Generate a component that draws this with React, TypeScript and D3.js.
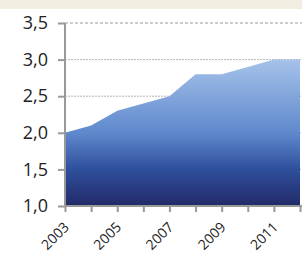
import React, { useEffect, useRef } from "react";
import * as d3 from "d3";

const years = [2003, 2004, 2005, 2006, 2007, 2008, 2009, 2010, 2011, 2012];
const values = [2.0, 2.1, 2.3, 2.4, 2.5, 2.8, 2.8, 2.9, 3.0, 3.0];
const yTicks = [1.0, 1.5, 2.0, 2.5, 3.0, 3.5];
const xLabelYears = [2003, 2005, 2007, 2009, 2011];

function App() {
  const ref = useRef<SVGSVGElement>(null);

  useEffect(() => {
    const width = 302;
    const height = 256;
    const margin = { top: 23, left: 65, bottom: 50, right: 2 };

    const svg = d3.select(ref.current);
    svg.selectAll("*").remove();

    // beige strip on top
    svg.append("rect").attr("x", 0).attr("y", 0).attr("width", width).attr("height", 9).attr("fill", "#f2efe2");

    const x = d3.scaleLinear()
      .domain([2003, 2012])
      .range([margin.left, width - margin.right]);

    const y = d3.scaleLinear()
      .domain([1, 3.5])
      .range([height - margin.bottom, margin.top]);

    const defs = svg.append("defs");
    const grad = defs.append("linearGradient")
      .attr("id", "areaGrad")
      .attr("gradientUnits", "userSpaceOnUse")
      .attr("x1", 0).attr("x2", 0)
      .attr("y1", y(3.0)).attr("y2", y(1.0));
    grad.append("stop").attr("offset", "0%").attr("stop-color", "#a6c2ea");
    grad.append("stop").attr("offset", "50%").attr("stop-color", "#5f89cd");
    grad.append("stop").attr("offset", "75%").attr("stop-color", "#2f4f9c");
    grad.append("stop").attr("offset", "100%").attr("stop-color", "#222a68");

    // gridlines
    svg.append("g")
      .selectAll("line")
      .data(yTicks.filter(t => t > 1))
      .enter()
      .append("line")
      .attr("x1", margin.left)
      .attr("x2", width)
      .attr("y1", d => y(d))
      .attr("y2", d => y(d))
      .attr("stroke", d => d === 3.5 ? "#9a9a9a" : "#b5b5b5")
      .attr("stroke-width", 1)
      .attr("stroke-dasharray", d => d === 3.5 ? "3,2" : "2,1");

    const area = d3.area<number>()
      .x((d, i) => x(years[i]))
      .y0(y(1))
      .y1(d => y(d));

    svg.append("path")
      .datum(values)
      .attr("d", area)
      .attr("fill", "url(#areaGrad)");

    // y axis
    const yAxis = svg.append("g")
      .attr("transform", `translate(${margin.left}, 0)`)
      .call(d3.axisLeft(y).tickValues(yTicks).tickSize(7).tickFormat(d => d3.format(".1f")(d as number).replace(".", ",")));
    yAxis.selectAll("path, line").attr("stroke", "#999").attr("stroke-width", 2);
    yAxis.select(".domain").attr("d", `M0,${y(3.5)}V${y(1)}`);
    yAxis.selectAll("text")
      .attr("x", -17)
      .attr("fill", "#222")
      .style("font-family", "'Open Sans', sans-serif")
      .style("font-size", "18px");

    // x axis
    const xAxis = svg.append("g")
      .attr("transform", `translate(0, ${y(1)})`)
      .call(d3.axisBottom(x).tickValues(years).tickSize(6).tickSizeOuter(0).tickFormat(() => ""));
    xAxis.selectAll("path, line").attr("stroke", "#999").attr("stroke-width", 2);
    xAxis.select(".domain").attr("d", `M${margin.left},0H${width}`);

    svg.append("g")
      .selectAll("text")
      .data(xLabelYears)
      .enter()
      .append("text")
      .attr("transform", d => `translate(${x(d) + 5}, ${y(1) + 22}) rotate(-45)`)
      .attr("text-anchor", "end")
      .attr("fill", "#222")
      .style("font-family", "'Open Sans', sans-serif")
      .style("font-size", "14px")
      .text(d => d);
  }, []);

  return (
    <svg ref={ref} width={302} height={256} style={{ position: "absolute", left: 0, top: 0, background: "#fff" }} />
  );
}

export default App;
